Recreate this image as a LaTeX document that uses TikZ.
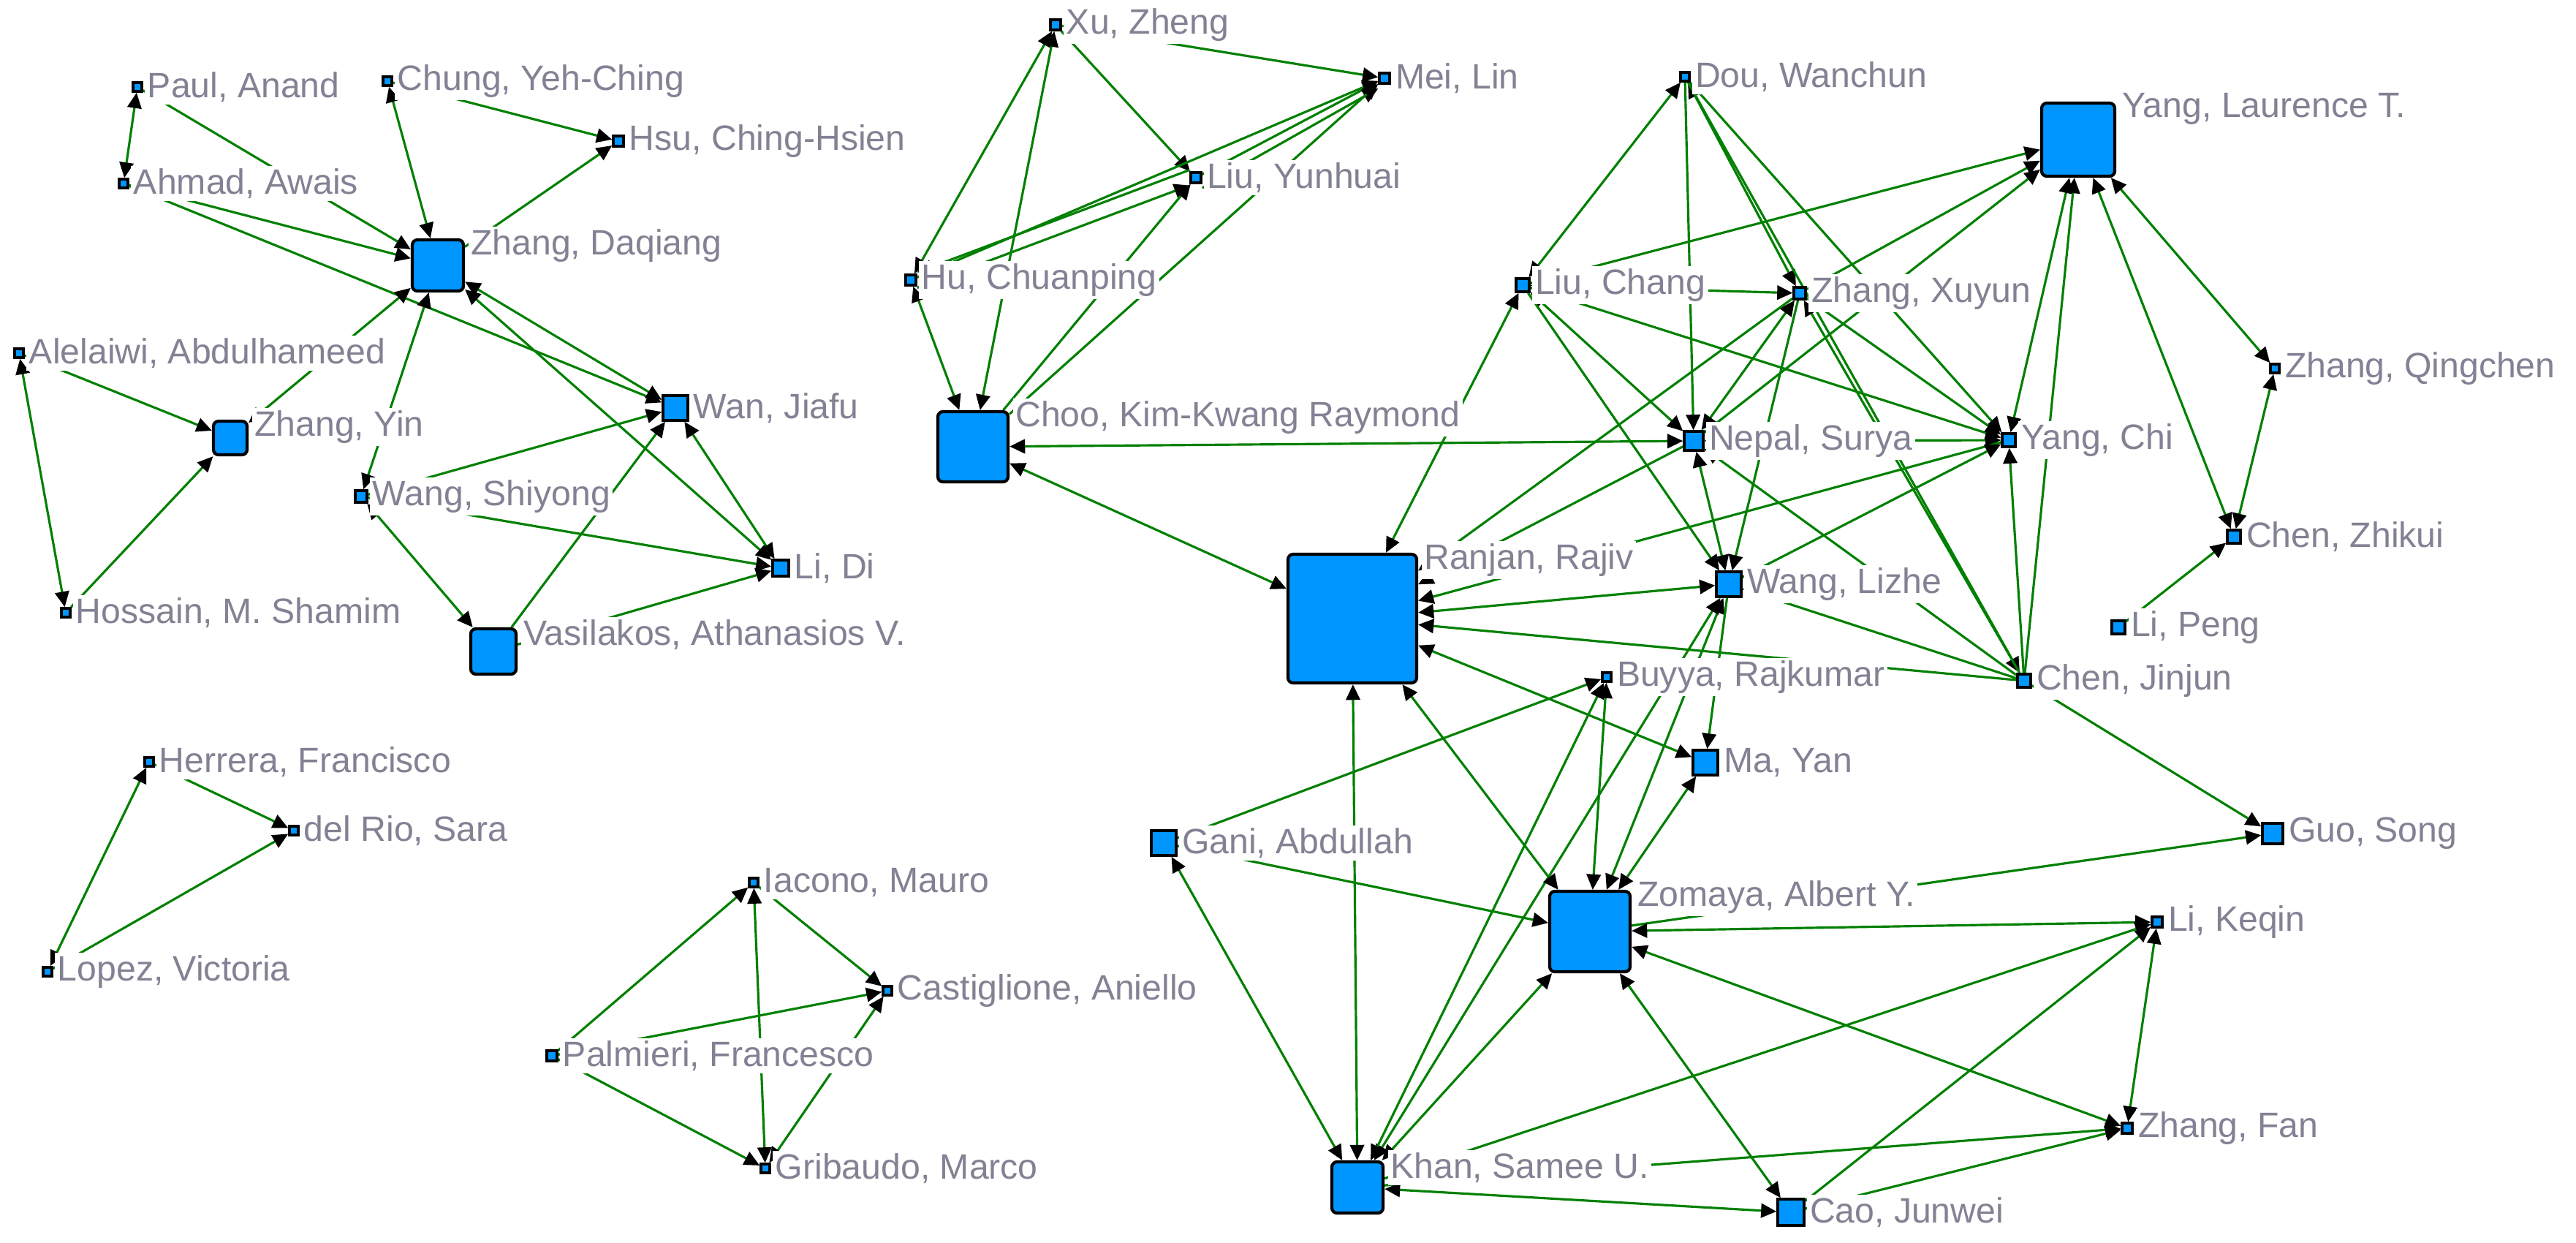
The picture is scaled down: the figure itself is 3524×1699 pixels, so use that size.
\documentclass[tikz,border=0pt]{standalone}
\usepackage{fontspec}
\setmainfont{Liberation Sans}
\usetikzlibrary{arrows.meta,calc,backgrounds}
\definecolor{nb}{RGB}{0,150,255}
\definecolor{eg}{RGB}{0,128,0}
\definecolor{lg}{RGB}{130,130,148}
\tikzset{
 box/.style={draw=black,line width=1.2pt,fill=nb,rounded corners=2pt,inner sep=0pt},
 sbox/.style={draw=black,line width=1pt,fill=nb,inner sep=0pt},
 lbl/.style={fill=white,text=lg,inner sep=1pt,font=\fontsize{13.7}{16}\selectfont},
 tip/.tip={Triangle[black,length=6pt,width=5.5pt]},
 e/.style={draw=eg,line width=0.9pt,-tip},
 ee/.style={draw=eg,line width=0.9pt,tip-tip},
}
\newcommand\sn[5]{\node[sbox,minimum size=#4*0.01cm] (#1) at (#2,#3) {};
 \node[lbl,anchor=west] (#1l) at ($(#1.east)+(2,0)$) {#5};}
\newcommand\bn[5]{\node[box,minimum size=#4*0.01cm] (#1) at (#2,#3) {};
 \node[lbl,anchor=west] (#1l) at ($(#1.north east)+(4,10)$) {#5};}
\begin{document}
\begin{tikzpicture}[x=0.01cm,y=-0.01cm]
\useasboundingbox (0,0) rectangle (3524,1699);
\sn{paul}{188}{119}{12}{Paul, Anand}
\sn{ahmad}{169}{251}{12}{Ahmad, Awais}
\sn{chung}{530}{111}{12}{Chung, Yeh-Ching}
\sn{hsu}{846}{193}{14}{Hsu, Ching-Hsien}
\bn{daq}{599}{363}{70}{Zhang, Daqiang}
\sn{alel}{26}{483}{12}{Alelaiwi, Abdulhameed}
\bn{yin}{315}{599}{46}{Zhang, Yin}
\sn{hoss}{90}{838}{12}{Hossain, M. Shamim}
\sn{wan}{924}{558}{34}{Wan, Jiafu}
\sn{shi}{494}{679}{16}{Wang, Shiyong}
\sn{lidi}{1068}{777}{22}{Li, Di}
\bn{vas}{675}{891}{62}{Vasilakos, Athanasios V.}
\sn{herr}{204}{1042}{12}{Herrera, Francisco}
\sn{delrio}{402}{1136}{12}{del Rio, Sara}
\sn{lopez}{65}{1329}{12}{Lopez, Victoria}
\sn{iac}{1031}{1207}{12}{Iacono, Mauro}
\sn{cast}{1214}{1355}{12}{Castiglione, Aniello}
\sn{palm}{755}{1444}{14}{Palmieri, Francesco}
\sn{grib}{1047}{1598}{12}{Gribaudo, Marco}
\sn{xu}{1444}{34}{14}{Xu, Zheng}
\sn{mei}{1894}{107}{14}{Mei, Lin}
\sn{yun}{1636}{243}{14}{Liu, Yunhuai}
\sn{hu}{1246}{383}{14}{Hu, Chuanping}
\bn{choo}{1331}{611}{96}{Choo, Kim-Kwang Raymond}
\sn{dou}{2305}{105}{12}{Dou, Wanchun}
\bn{lau}{2843}{191}{100}{Yang, Laurence T.}
\sn{liuc}{2083}{390}{18}{Liu, Chang}
\sn{xuy}{2462}{401}{16}{Zhang, Xuyun}
\sn{qing}{3112}{504}{12}{Zhang, Qingchen}
\sn{nepal}{2317}{603}{26}{Nepal, Surya}
\sn{yangchi}{2748}{602}{18}{Yang, Chi}
\sn{zhik}{3056}{734}{18}{Chen, Zhikui}
\bn{big}{1850}{846}{176}{Ranjan, Rajiv}
\sn{lizhe}{2365}{799}{34}{Wang, Lizhe}
\sn{lipeng}{2898}{858}{18}{Li, Peng}
\sn{chenj}{2769}{931}{18}{Chen, Jinjun}
\sn{buyya}{2198}{926}{12}{Buyya, Rajkumar}
\sn{ma}{2333}{1043}{34}{Ma, Yan}
\sn{gani}{1592}{1153}{34}{Gani, Abdullah}
\sn{guo}{3109}{1140}{28}{Guo, Song}
\bn{zom}{2175}{1274}{110}{Zomaya, Albert Y.}
\sn{keqin}{2951}{1261}{14}{Li, Keqin}
\sn{fan}{2910}{1543}{14}{Zhang, Fan}
\bn{khan}{1857}{1624}{70}{Khan, Samee U.}
\sn{cao}{2450}{1658}{36}{Cao, Junwei}
\begin{scope}[on background layer]
% left cluster
\draw[ee] (paul) -- (ahmad);
\draw[e] (paul) -- (daq);
\draw[e] (ahmad) -- (daq);
\draw[e] (ahmad) -- (wan);
\draw[ee] (chung) -- (daq);
\draw[e] (chung) -- (hsu);
\draw[e] (daq) -- (hsu);
\draw[e] (alel) -- (yin);
\draw[ee] (alel) -- (hoss);
\draw[e] (hoss) -- (yin);
\draw[ee] (yin) -- (daq);
\draw[ee] (shi) -- (daq);
\draw[ee] (daq) -- (wan);
\draw[ee] (daq) -- (lidi);
\draw[e] (shi) -- (wan);
\draw[e] (shi) -- (lidi);
\draw[ee] (shi) -- (vas);
\draw[e] (vas) -- (wan);
\draw[e] (vas) -- (lidi);
\draw[ee] (lidi) -- (wan);
\draw[ee] (lopez) -- (herr);
\draw[e] (herr) -- (delrio);
\draw[e] (lopez) -- (delrio);
\draw[e] (palm) -- (iac);
\draw[e] (palm) -- (cast);
\draw[e] (palm) -- (grib);
\draw[e] (iac) -- (cast);
\draw[ee] (iac) -- (grib);
\draw[ee] (grib) -- (cast);
% top middle
\draw[ee] (xu) -- (hu);
\draw[ee] (xu) -- (choo);
\draw[ee] (hu) -- (choo);
\draw[e] (xu) -- (yun);
\draw[e] (xu) -- (mei);
\draw[e] (hu) -- (mei);
\draw[e] ([yshift=-3]hu.east) -- ([yshift=-3]yun.west);
\draw[e] ([yshift=3]yun.west) -- ([yshift=3]hu.east);
\draw[e] (yun) -- (mei);
\draw[e] ([yshift=-4]yun.east) -- ([yshift=-4]mei.west);
\draw[e] (choo) -- (mei);
\draw[e] (choo) -- (yun);
\draw[ee] (nepal) -- (choo);
\draw[ee] (big) -- (choo);
\draw[ee] (big) -- (liuc);
% right cluster
\draw[ee] (dou) -- (liuc);
\draw[e] (dou) -- (nepal);
\draw[ee] (dou) -- (xuy);
\draw[e] (dou) -- (yangchi);
\draw[e] (dou) -- (chenj);
\draw[ee] (liuc) -- (xuy);
\draw[e] (liuc) -- (lau);
\draw[e] (liuc) -- (yangchi);
\draw[ee] (liuc) -- (nepal);
\draw[e] (liuc) -- (lizhe);
\draw[e] (xuy) -- (lau);
\draw[e] (nepal) -- (lau);
\draw[ee] (xuy) -- (nepal);
\draw[e] (xuy) -- (big);
\draw[e] (xuy) -- (yangchi);
\draw[e] (xuy) -- (lizhe);
\draw[e] (chenj) -- (xuy);
\draw[ee] (yangchi) -- (lau);
\draw[e] (chenj) -- (lau);
\draw[ee] (nepal) -- (yangchi);
\draw[e] (chenj) -- (yangchi);
\draw[e] (chenj) -- (nepal);
\draw[e] (chenj) -- (lizhe);
\draw[e] (chenj) -- (big);
\draw[ee] (lau) -- (qing);
\draw[ee] (lau) -- (zhik);
\draw[ee] (qing) -- (zhik);
\draw[e] (lipeng) -- (zhik);
\draw[e] (chenj) -- (guo);
\draw[e] (nepal) -- (big);
\draw[e] (yangchi) -- (big);
\draw[ee] (big) -- (lizhe);
\draw[e] (lizhe) -- (yangchi);
\draw[ee] (lizhe) -- (nepal);
\draw[ee] (lizhe) -- (zom);
\draw[e] (lizhe) -- (ma);
\draw[ee] (lizhe) -- (khan);
% bottom
\draw[ee] (big) -- (ma);
\draw[ee] (big) -- (khan);
\draw[ee] (big) -- (zom);
\draw[e] (gani) -- (buyya);
\draw[e] (gani) -- (zom);
\draw[ee] (gani) -- (khan);
\draw[ee] (buyya) -- (zom);
\draw[ee] (buyya) -- (khan);
\draw[ee] (ma) -- (zom);
\draw[e] (zom) -- (guo);
\draw[ee] (zom) -- (keqin);
\draw[ee] (zom) -- (fan);
\draw[ee] (zom) -- (cao);
\draw[ee] (zom) -- (khan);
\draw[e] (khan) -- (keqin);
\draw[e] (khan) -- (fan);
\draw[ee] (khan) -- (cao);
\draw[e] (cao) -- (keqin);
\draw[e] (cao) -- (fan);
\draw[ee] (keqin) -- (fan);
\end{scope}
\end{tikzpicture}
\end{document}
